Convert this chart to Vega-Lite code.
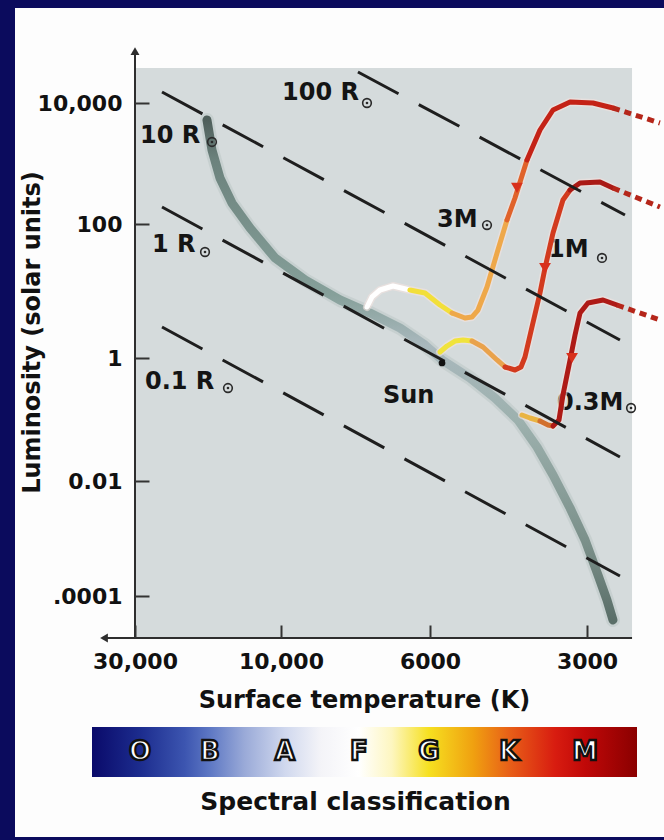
{
  "$schema": "https://vega.github.io/schema/vega-lite/v6.json",
  "width": 649,
  "height": 829,
  "padding": {"left": 15, "top": 8, "right": 0, "bottom": 3},
  "autosize": {"type": "none"},
  "background": "#0b0b5d",
  "config": {"view": {"fill": "#fdfdfd", "stroke": null}, "font": "DejaVu Sans"},
  "resolve": {"scale": {"x": "independent", "y": "independent"}},
  "layer": [
    {
      "encoding": {
        "x": {
          "field": "T", "type": "quantitative",
          "scale": {"type": "log", "domain": [30000, 10000, 6000, 3000], "range": [120, 266, 415, 572], "nice": false},
          "axis": {
            "orient": "bottom", "offset": -199, "zindex": 1, "values": [30000, 10000, 6000, 3000],
            "labelExpr": "datum.value >= 10000 ? format(datum.value, ',') : format(datum.value, 'd')",
            "domain": false, "grid": false, "tickSize": -13, "tickWidth": 2, "tickColor": "#333333",
            "labelFont": "DejaVu Sans", "labelFontWeight": "bold", "labelFontSize": 22, "labelColor": "#111111",
            "labelPadding": 26, "labelFlush": false, "labelOverlap": false, "labelBound": false,
            "title": "Surface temperature (K)", "titleFont": "DejaVu Sans", "titleFontWeight": "bold", "titleFontSize": 24,
            "titleColor": "#111111", "titleX": 349, "titleY": 62, "titleAlign": "center", "titleBaseline": "middle"
          }
        },
        "y": {
          "field": "L", "type": "quantitative",
          "scale": {"type": "log", "domain": [10000, 100, 1, 0.01, 0.0001], "range": [95, 216, 350, 473, 588], "nice": false},
          "axis": {
            "orient": "left", "offset": -120, "zindex": 1, "values": [10000, 100, 1, 0.01, 0.0001],
            "labelExpr": "datum.value < 0.001 ? '.0001' : datum.value < 1 ? '0.01' : format(datum.value, ',')",
            "domain": false, "grid": false, "tickSize": -14, "tickWidth": 2, "tickColor": "#333333",
            "labelFont": "DejaVu Sans", "labelFontWeight": "bold", "labelFontSize": 22, "labelColor": "#111111",
            "labelPadding": 27, "labelFlush": false, "labelOverlap": false, "labelBound": false,
            "title": "Luminosity (solar units)", "titleFont": "DejaVu Sans", "titleFontWeight": "bold", "titleFontSize": 24,
            "titleColor": "#111111", "titleX": -103, "titleY": 324, "titleAngle": 270, "titleAlign": "center", "titleBaseline": "middle"
          }
        }
      },
      "layer": [
        {
          "data": {"values": [{"T": 30000, "T2": 2459, "L": 37880, "L2": 0.00001861}]},
          "mark": {"type": "rect", "color": "#d5dbdc"},
          "encoding": {"x2": {"field": "T2"}, "y2": {"field": "L2"}}
        },
        {
          "data": {"name": "ms", "values": [
            {"i": 1, "T": 17456, "L": 5236}, {"i": 2, "T": 16810, "L": 1671}, {"i": 3, "T": 15830, "L": 576},
            {"i": 4, "T": 14460, "L": 222}, {"i": 5, "T": 12630, "L": 87.2}, {"i": 6, "T": 10462, "L": 31.1},
            {"i": 7, "T": 9210, "L": 14.6}, {"i": 8, "T": 8168, "L": 7.34}, {"i": 9, "T": 7370, "L": 4.69},
            {"i": 10, "T": 6650, "L": 2.8}, {"i": 11, "T": 6104, "L": 1.563}, {"i": 12, "T": 5690, "L": 0.928},
            {"i": 13, "T": 5029, "L": 0.473}, {"i": 14, "T": 4504, "L": 0.2237}, {"i": 15, "T": 4069, "L": 0.0981},
            {"i": 16, "T": 3741, "L": 0.0357}, {"i": 17, "T": 3486, "L": 0.01252}, {"i": 18, "T": 3233, "L": 0.00339},
            {"i": 19, "T": 3026, "L": 0.000942}, {"i": 20, "T": 2858, "L": 0.000232}, {"i": 21, "T": 2747, "L": 0.0000852},
            {"i": 22, "T": 2675, "L": 0.0000383}
          ]},
          "mark": {"type": "line", "strokeWidth": 14, "color": "#aebcba", "opacity": 0.35, "strokeCap": "round", "strokeJoin": "round"},
          "encoding": {"order": {"field": "i"}}
        },
        {
          "data": {"name": "ms"},
          "mark": {"type": "line", "strokeWidth": 9, "strokeCap": "round", "strokeJoin": "round",
            "color": {"gradient": "linear", "x1": 0, "y1": 0, "x2": 0, "y2": 1, "stops": [
              {"offset": 0, "color": "#4f5f5b"}, {"offset": 0.08, "color": "#6c827d"}, {"offset": 0.35, "color": "#86a09a"},
              {"offset": 0.45, "color": "#a9b8bd"}, {"offset": 0.6, "color": "#9db1ae"}, {"offset": 0.85, "color": "#7a8f89"},
              {"offset": 1, "color": "#5a6e68"}]}},
          "encoding": {"order": {"field": "i"}}
        },
        {
          "data": {"values": [
            {"t": "100 R", "T": 9966, "L": 11210}, {"t": "10 R", "T": 28890, "L": 2182},
            {"t": "1 R", "T": 26400, "L": 38.2}, {"t": "0.1 R", "T": 27826, "L": 0.3133},
            {"t": "3M", "T": 5817, "L": 90.2}, {"t": "1M", "T": 3564, "L": 32.2},
            {"t": "0.3M", "T": 3425, "L": 0.1427}, {"t": "Sun", "T": 7050, "L": 0.1854}
          ]},
          "mark": {"type": "text", "font": "DejaVu Sans", "fontWeight": "bold", "fontSize": 24, "color": "#141414", "align": "left", "baseline": "alphabetic"},
          "encoding": {"text": {"field": "t"}}
        },
        {
          "data": {"name": "suns", "values": [
            {"T": 7447, "L": 10000}, {"T": 16810, "L": 2267}, {"T": 17716, "L": 38.2}, {"T": 14904, "L": 0.3252},
            {"T": 4665, "L": 96.6}, {"T": 2808, "L": 31.1}, {"T": 2470, "L": 0.1538}
          ]},
          "mark": {"type": "point", "shape": "circle", "filled": false, "stroke": "#2a2a2a", "strokeWidth": 1.6, "size": 75, "opacity": 1}
        },
        {
          "data": {"name": "suns"},
          "mark": {"type": "point", "shape": "circle", "filled": true, "color": "#2a2a2a", "size": 7, "opacity": 1}
        },
        {
          "data": {"name": "tracks", "values": [
            {"trk": "3", "seg": "3w", "i": 1, "T": 7447, "L": 5.77}, {"trk": "3", "seg": "3w", "i": 2, "T": 7320, "L": 8.14},
            {"trk": "3", "seg": "3w", "i": 3, "T": 7122, "L": 10.35}, {"trk": "3", "seg": "3w", "i": 4, "T": 6812, "L": 11.87},
            {"trk": "3", "seg": "3w", "i": 5, "T": 6428, "L": 10.35},
            {"trk": "3", "seg": "3y", "i": 6, "T": 6428, "L": 10.35}, {"trk": "3", "seg": "3y", "i": 7, "T": 6104, "L": 9.34},
            {"trk": "3", "seg": "3y", "i": 8, "T": 5741, "L": 6.18}, {"trk": "3", "seg": "3y", "i": 9, "T": 5445, "L": 4.69},
            {"trk": "3", "seg": "3o", "i": 10, "T": 5445, "L": 4.69}, {"trk": "3", "seg": "3o", "i": 11, "T": 5141, "L": 3.95},
            {"trk": "3", "seg": "3o", "i": 12, "T": 4985, "L": 4.09}, {"trk": "3", "seg": "3o", "i": 13, "T": 4855, "L": 5.2},
            {"trk": "3", "seg": "3o", "i": 14, "T": 4665, "L": 11.47}, {"trk": "3", "seg": "3o", "i": 15, "T": 4463, "L": 36.9},
            {"trk": "3", "seg": "3o", "i": 16, "T": 4271, "L": 116.5},
            {"trk": "3", "seg": "3r1", "i": 17, "T": 4271, "L": 116.5}, {"trk": "3", "seg": "3r1", "i": 18, "T": 4123, "L": 269},
            {"trk": "3", "seg": "3r1", "i": 19, "T": 3910, "L": 1143},
            {"trk": "3", "seg": "3r2", "i": 20, "T": 3910, "L": 1143}, {"trk": "3", "seg": "3r2", "i": 21, "T": 3692, "L": 3579},
            {"trk": "3", "seg": "3r2", "i": 22, "T": 3486, "L": 7660}, {"trk": "3", "seg": "3r2", "i": 23, "T": 3233, "L": 10390},
            {"trk": "3", "seg": "3r2", "i": 24, "T": 2922, "L": 10000}, {"trk": "3", "seg": "3r2", "i": 25, "T": 2675, "L": 8268},
            {"trk": "1", "seg": "1y", "i": 30, "T": 5741, "L": 1.229}, {"trk": "1", "seg": "1y", "i": 31, "T": 5567, "L": 1.51},
            {"trk": "1", "seg": "1y", "i": 32, "T": 5374, "L": 1.793}, {"trk": "1", "seg": "1y", "i": 33, "T": 5186, "L": 1.857},
            {"trk": "1", "seg": "1y", "i": 34, "T": 4985, "L": 1.793},
            {"trk": "1", "seg": "1o", "i": 35, "T": 4985, "L": 1.793}, {"trk": "1", "seg": "1o", "i": 36, "T": 4748, "L": 1.459},
            {"trk": "1", "seg": "1o", "i": 37, "T": 4463, "L": 0.928}, {"trk": "1", "seg": "1o", "i": 38, "T": 4309, "L": 0.714},
            {"trk": "1", "seg": "1r", "i": 39, "T": 4309, "L": 0.714}, {"trk": "1", "seg": "1r", "i": 40, "T": 4123, "L": 0.638},
            {"trk": "1", "seg": "1r", "i": 41, "T": 4015, "L": 0.714}, {"trk": "1", "seg": "1r", "i": 42, "T": 3945, "L": 1.035},
            {"trk": "1", "seg": "1r", "i": 43, "T": 3825, "L": 2.9}, {"trk": "1", "seg": "1r", "i": 44, "T": 3692, "L": 9.34},
            {"trk": "1", "seg": "1r", "i": 45, "T": 3611, "L": 22.0}, {"trk": "1", "seg": "1r", "i": 46, "T": 3486, "L": 73.4},
            {"trk": "1", "seg": "1r", "i": 47, "T": 3336, "L": 249}, {"trk": "1", "seg": "1r", "i": 48, "T": 3233, "L": 365},
            {"trk": "1", "seg": "1d", "i": 49, "T": 3233, "L": 365}, {"trk": "1", "seg": "1d", "i": 50, "T": 3094, "L": 476},
            {"trk": "1", "seg": "1d", "i": 51, "T": 2833, "L": 494}, {"trk": "1", "seg": "1d", "i": 52, "T": 2675, "L": 394},
            {"trk": "0", "seg": "0y", "i": 60, "T": 3997, "L": 0.1184}, {"trk": "0", "seg": "0y", "i": 61, "T": 3859, "L": 0.1058},
            {"trk": "0", "seg": "0y", "i": 62, "T": 3692, "L": 0.0945},
            {"trk": "0", "seg": "0o", "i": 63, "T": 3692, "L": 0.0945}, {"trk": "0", "seg": "0o", "i": 64, "T": 3564, "L": 0.0814},
            {"trk": "0", "seg": "0o", "i": 65, "T": 3486, "L": 0.0784},
            {"trk": "0", "seg": "0d", "i": 66, "T": 3486, "L": 0.0784}, {"trk": "0", "seg": "0d", "i": 67, "T": 3395, "L": 0.0981},
            {"trk": "0", "seg": "0d", "i": 68, "T": 3336, "L": 0.2503}, {"trk": "0", "seg": "0d", "i": 69, "T": 3233, "L": 0.928},
            {"trk": "0", "seg": "0d", "i": 70, "T": 3163, "L": 2.204}, {"trk": "0", "seg": "0d", "i": 71, "T": 3094, "L": 4.69},
            {"trk": "0", "seg": "0d", "i": 72, "T": 2987, "L": 6.62}, {"trk": "0", "seg": "0d", "i": 73, "T": 2795, "L": 7.34},
            {"trk": "0", "seg": "0d", "i": 74, "T": 2628, "L": 6.18}
          ]},
          "mark": {"type": "line", "strokeWidth": 8, "color": "#f4e2e0", "opacity": 0.6, "strokeCap": "round", "strokeJoin": "round"},
          "encoding": {"detail": {"field": "trk"}, "order": {"field": "i"}}
        },
        {
          "data": {"name": "tracks"},
          "mark": {"type": "line", "strokeWidth": 5, "strokeCap": "round", "strokeJoin": "round"},
          "encoding": {
            "color": {"field": "seg", "type": "nominal", "legend": null, "scale": {
              "domain": ["3w", "3y", "3o", "3r1", "3r2", "1y", "1o", "1r", "1d", "0y", "0o", "0d"],
              "range": ["#ffffff", "#f2df3a", "#eea84a", "#e0622a", "#c42216", "#f0e33c", "#e9a24c", "#d23a1e", "#aa1a16", "#e9b443", "#d2702e", "#ae1a16"]}},
            "order": {"field": "i"}
          }
        },
        {
          "data": {"values": [
            {"trk": "3", "i": 1, "T": 2675, "L": 8268}, {"trk": "3", "i": 2, "T": 2174, "L": 4670},
            {"trk": "1", "i": 1, "T": 2675, "L": 394}, {"trk": "1", "i": 2, "T": 2174, "L": 191},
            {"trk": "0", "i": 1, "T": 2628, "L": 6.18}, {"trk": "0", "i": 2, "T": 2174, "L": 3.69}
          ]},
          "mark": {"type": "line", "strokeWidth": 5, "color": "#b5261a", "strokeDash": [7, 5]},
          "encoding": {"detail": {"field": "trk"}, "order": {"field": "i"}}
        },
        {
          "data": {"values": [
            {"R": "100", "i": 0, "T": 7681, "L": 32540}, {"R": "100", "i": 1, "T": 2537, "L": 140.8},
            {"R": "10", "i": 0, "T": 24483, "L": 15200}, {"R": "10", "i": 1, "T": 2594, "L": 1.857},
            {"R": "1", "i": 0, "T": 24483, "L": 191.0}, {"R": "1", "i": 1, "T": 2594, "L": 0.02457},
            {"R": "0.1", "i": 0, "T": 24483, "L": 2.902}, {"R": "0.1", "i": 1, "T": 2594, "L": 0.0002228}
          ]},
          "mark": {"type": "line", "strokeWidth": 3, "color": "#1e1e1e", "strokeDash": [46, 23]},
          "encoding": {"detail": {"field": "R"}, "order": {"field": "i"}}
        },
        {
          "data": {"values": [
            {"T": 4087, "L": 394}, {"T": 3611, "L": 22.0}, {"T": 3205, "L": 1.0}
          ]},
          "mark": {"type": "point", "shape": "triangle-down", "filled": true, "color": "#d8301c", "size": 140, "opacity": 1}
        },
        {
          "data": {"values": [{"T": 5690, "L": 0.829}]},
          "mark": {"type": "point", "shape": "circle", "filled": true, "color": "#111111", "size": 45, "opacity": 1}
        },
        {
          "data": {"values": [{"T": 30000, "L": 0.00001861, "L2": 72350}]},
          "mark": {"type": "rule", "color": "#2e2e2e", "strokeWidth": 2},
          "encoding": {"y2": {"field": "L2"}}
        },
        {
          "data": {"values": [{"T": 37880, "T2": 2459, "L": 0.00001861}]},
          "mark": {"type": "rule", "color": "#2e2e2e", "strokeWidth": 2},
          "encoding": {"x2": {"field": "T2"}}
        },
        {
          "data": {"values": [{"dir": "up", "T": 30000, "L": 72350}, {"dir": "left", "T": 37880, "L": 0.00001861}]},
          "mark": {"type": "point", "filled": true, "color": "#2e2e2e", "size": 80, "opacity": 1},
          "encoding": {"shape": {"field": "dir", "type": "nominal", "legend": null, "scale": {"domain": ["up", "left"], "range": ["triangle-up", "triangle-left"]}}}
        }
      ]
    },
    {
      "encoding": {
        "x": {"field": "p", "type": "quantitative", "scale": {"domain": [0, 1], "range": [77, 622], "nice": false, "zero": false}, "axis": null},
        "y": {"field": "b", "type": "quantitative", "scale": {"domain": [0, 1], "range": [769, 719], "nice": false, "zero": false}, "axis": null}
      },
      "layer": [
        {
          "data": {"values": [{"p": 0, "p2": 1, "b": 0, "b2": 1}]},
          "mark": {"type": "rect", "color": {"gradient": "linear", "x1": 0, "y1": 0, "x2": 1, "y2": 0, "stops": [
            {"offset": 0, "color": "#0a0a6a"}, {"offset": 0.088, "color": "#1c2c8e"}, {"offset": 0.17, "color": "#3c55b0"},
            {"offset": 0.217, "color": "#5e78c4"}, {"offset": 0.28, "color": "#9aaad8"}, {"offset": 0.354, "color": "#d0d8ee"},
            {"offset": 0.42, "color": "#f4f4f8"}, {"offset": 0.49, "color": "#ffffff"}, {"offset": 0.55, "color": "#fdf6c0"},
            {"offset": 0.618, "color": "#f6e020"}, {"offset": 0.7, "color": "#f0a010"}, {"offset": 0.765, "color": "#e86018"},
            {"offset": 0.85, "color": "#d81c10"}, {"offset": 0.905, "color": "#c00808"}, {"offset": 1, "color": "#8a0000"}]}},
          "encoding": {"x2": {"field": "p2"}, "y2": {"field": "b2"}}
        },
        {
          "data": {"values": [
            {"k": "O", "p": 0.088, "b": 0.5}, {"k": "B", "p": 0.2165, "b": 0.5}, {"k": "A", "p": 0.354, "b": 0.5},
            {"k": "F", "p": 0.4899, "b": 0.5}, {"k": "G", "p": 0.618, "b": 0.5}, {"k": "K", "p": 0.7651, "b": 0.5},
            {"k": "M", "p": 0.9046, "b": 0.5}
          ]},
          "mark": {"type": "text", "font": "DejaVu Sans", "fontWeight": "bold", "fontSize": 26, "fill": "#ffffff", "stroke": "#111111", "strokeWidth": 2.4, "align": "center", "baseline": "middle"},
          "encoding": {"text": {"field": "k"}}
        },
        {
          "data": {"values": [{"k": "Spectral classification", "p": 0.4835, "b": -0.5}]},
          "mark": {"type": "text", "font": "DejaVu Sans", "fontWeight": "bold", "fontSize": 25, "color": "#111111", "align": "center", "baseline": "middle"},
          "encoding": {"text": {"field": "k"}}
        }
      ]
    }
  ]
}
